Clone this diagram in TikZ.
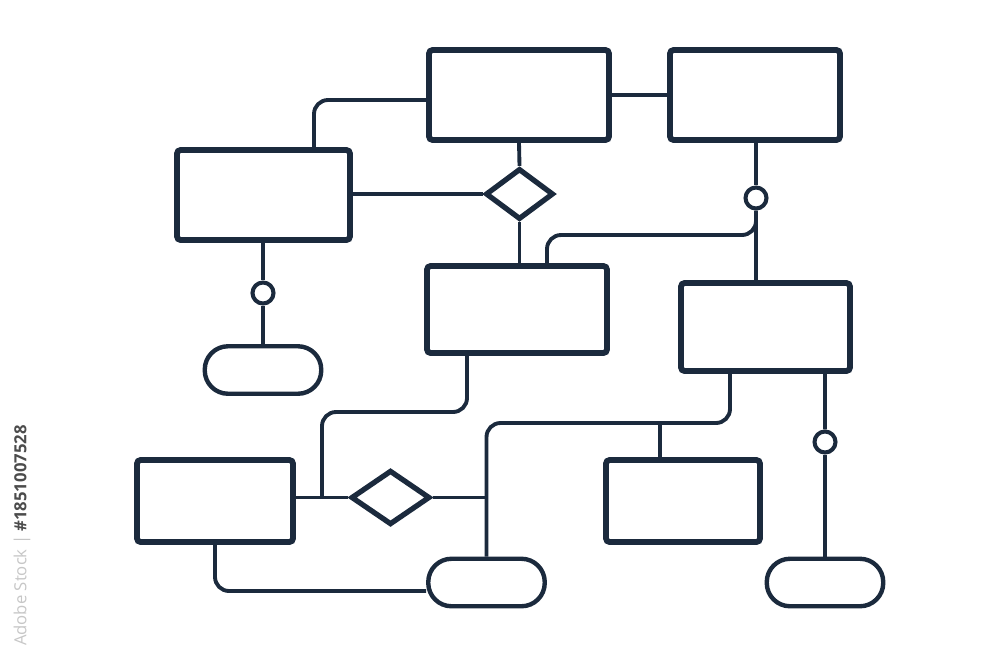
\documentclass[tikz,border=0pt]{standalone}
\usepackage{fontspec}
\setmainfont{Open Sans}
\usetikzlibrary{shapes.geometric,calc}
\definecolor{ink}{HTML}{1B2A3D}
\begin{document}
\begin{tikzpicture}[x=0.02cm,y=-0.02cm,
  box/.style={draw=ink,line width=3.3pt,rounded corners=2pt,inner sep=0pt,fill=white},
  dia/.style={diamond,draw=ink,line width=3.0pt,inner sep=0pt,fill=white},
  ring/.style={circle,draw=ink,line width=2.3pt,inner sep=0pt,minimum size=0.42cm,fill=white},
  pill/.style={rectangle,draw=ink,line width=2.5pt,rounded corners=0.465cm,inner sep=0pt,fill=white,minimum width=2.33cm,minimum height=0.95cm},
  conn/.style={draw=ink,line width=2.2pt},
  elbow/.style={conn,rounded corners=0.28cm}]
\useasboundingbox (0,0) rectangle (1000,667);
\fill[white] (0,0) rectangle (1000,667);
% nodes
\node[box,minimum width=3.6cm,minimum height=1.8cm] (A) at (519,95) {};
\node[box,minimum width=3.4cm,minimum height=1.8cm] (B) at (755,95) {};
\node[box,minimum width=3.46cm,minimum height=1.8cm] (C) at (263.5,195) {};
\node[box,minimum width=3.6cm,minimum height=1.74cm] (D) at (517,309.5) {};
\node[box,minimum width=3.38cm,minimum height=1.76cm] (E) at (765.5,327) {};
\node[box,minimum width=3.12cm,minimum height=1.64cm] (F) at (215,501) {};
\node[box,minimum width=3.08cm,minimum height=1.64cm] (G) at (683,501) {};
\node[dia,minimum width=1.36cm,minimum height=1.02cm] (d1) at (519.5,194) {};
\node[dia,minimum width=1.58cm,minimum height=1.09cm] (d2) at (390.5,497.5) {};
\node[ring] (c1) at (263,293) {};
\node[ring] (c2) at (756,198) {};
\node[ring] (c3) at (825,442) {};
\node[pill] (e1) at (263,370) {};
\node[pill] (e2) at (486.5,582.5) {};
\node[pill] (e3) at (825,582.5) {};
% helper coordinates
\coordinate (k1) at (756,235);
\coordinate (k2) at (322,412);
\coordinate (j1) at (322,497.5);
\coordinate (k4) at (730,423);
% connectors
\draw[conn] (A.east) -- (B.west);
\draw[elbow] ([yshift=-0.1cm]A.west) -| ([xshift=1.01cm]C.north);
\draw[conn] (A.south) -- (d1.north);
\draw[conn] (d1.south) -- (d1.south |- D.north);
\draw[conn] (d1.west -| C.east) -- (d1.west);
\draw[conn] (C.south -| c1) -- (c1.north);
\draw[conn] (c1.south) -- (e1.north);
\draw[conn] (B.south -| c2) -- (c2.north);
\draw[conn] (c2.south) -- (c2.south |- E.north);
\draw[elbow] ([xshift=0.6cm]D.north) |- (k1) -- (c2.south);
\draw[elbow] ([xshift=-1cm]D.south) |- (k2) -- (j1);
\draw[conn] (d2.west -| F.east) -- (d2.west);
\draw[conn] (d2.east) -- (d2.east -| e2.north);
\draw[elbow] (e2.north) |- (k4) -- (k4 |- E.south);
\draw[conn] ([xshift=-0.46cm]G.north) -- ([xshift=-0.46cm]G.north |- k4);
\draw[elbow] (F.south) |- ([yshift=-0.17cm]e2.west);
\draw[conn] ([xshift=1.19cm]E.south) -- (c3.north);
\draw[conn] (c3.south) -- (e3.north);
% side watermark text
\node[rotate=90,anchor=east,inner sep=0pt,font=\fontsize{9.5}{10}\selectfont] (wm) at (22,425)
  {\textcolor{black!22}{Adobe Stock |} \textcolor{black!70}{\bfseries\#1851007528}};
\end{tikzpicture}
\end{document}
